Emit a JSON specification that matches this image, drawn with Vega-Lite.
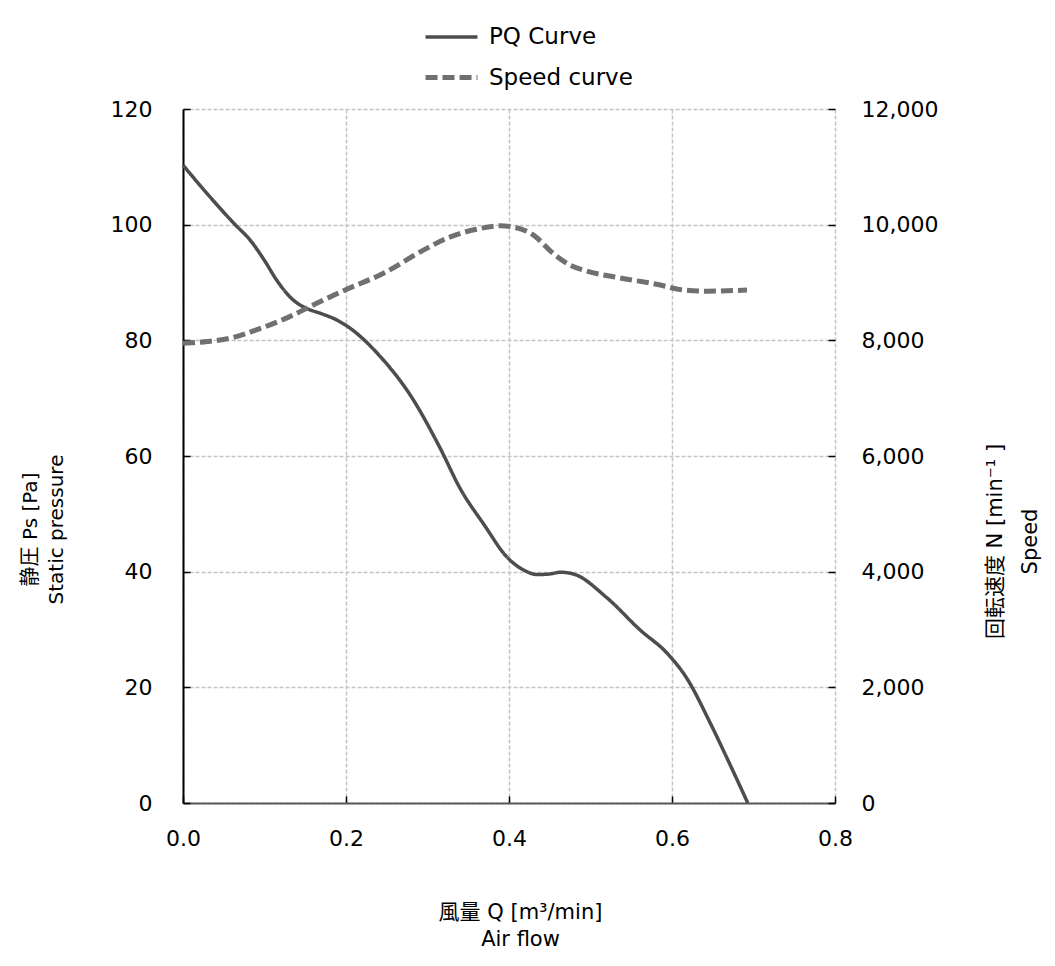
{
  "$schema": "https://vega.github.io/schema/vega-lite/v6.json",
  "width": 652,
  "height": 694,
  "autosize": {"type": "none"},
  "padding": {"left": 183, "top": 109, "right": 220, "bottom": 163},
  "background": "white",
  "config": {
    "view": {"stroke": null},
    "font": "DejaVu Sans, Noto Sans CJK JP",
    "axis": {
      "labelFontSize": 22,
      "labelColor": "#000000",
      "labelFont": "DejaVu Sans",
      "labelFlush": false,
      "labelOverlap": false,
      "titleFontSize": 20,
      "titleLineHeight": 26,
      "titleFontWeight": "normal",
      "titleColor": "#000000",
      "titleFont": "DejaVu Sans, Noto Sans CJK JP",
      "gridColor": "#c4c4c4",
      "gridDash": [4, 2],
      "gridWidth": 1.5,
      "tickColor": "#000000",
      "tickSize": -7,
      "tickWidth": 1.5
    },
    "legend": {
      "orient": "none",
      "legendX": 240,
      "legendY": -100,
      "symbolType": "stroke",
      "symbolSize": 2700,
      "labelFontSize": 23,
      "labelColor": "#000000",
      "labelFont": "DejaVu Sans",
      "rowPadding": -2,
      "labelOffset": 9
    }
  },
  "datasets": {
    "pq": [
      {"q": 0, "p": 110.3, "series": "PQ Curve"},
      {"q": 0.03, "p": 105.3, "series": "PQ Curve"},
      {"q": 0.064, "p": 100, "series": "PQ Curve"},
      {"q": 0.082, "p": 97.4, "series": "PQ Curve"},
      {"q": 0.1, "p": 93.8, "series": "PQ Curve"},
      {"q": 0.115, "p": 90.4, "series": "PQ Curve"},
      {"q": 0.135, "p": 87, "series": "PQ Curve"},
      {"q": 0.152, "p": 85.5, "series": "PQ Curve"},
      {"q": 0.17, "p": 84.6, "series": "PQ Curve"},
      {"q": 0.189, "p": 83.5, "series": "PQ Curve"},
      {"q": 0.205, "p": 82.1, "series": "PQ Curve"},
      {"q": 0.242, "p": 77.2, "series": "PQ Curve"},
      {"q": 0.279, "p": 70.5, "series": "PQ Curve"},
      {"q": 0.315, "p": 61.5, "series": "PQ Curve"},
      {"q": 0.34, "p": 54.4, "series": "PQ Curve"},
      {"q": 0.37, "p": 48, "series": "PQ Curve"},
      {"q": 0.397, "p": 42.6, "series": "PQ Curve"},
      {"q": 0.422, "p": 40, "series": "PQ Curve"},
      {"q": 0.434, "p": 39.5, "series": "PQ Curve"},
      {"q": 0.45, "p": 39.6, "series": "PQ Curve"},
      {"q": 0.463, "p": 39.9, "series": "PQ Curve"},
      {"q": 0.479, "p": 39.6, "series": "PQ Curve"},
      {"q": 0.52, "p": 35.5, "series": "PQ Curve"},
      {"q": 0.561, "p": 29.9, "series": "PQ Curve"},
      {"q": 0.594, "p": 25.9, "series": "PQ Curve"},
      {"q": 0.618, "p": 21.6, "series": "PQ Curve"},
      {"q": 0.647, "p": 13.8, "series": "PQ Curve"},
      {"q": 0.67, "p": 7, "series": "PQ Curve"},
      {"q": 0.693, "p": 0, "series": "PQ Curve"}
    ],
    "speed": [
      {"q": 0, "n": 7950, "series": "Speed curve"},
      {"q": 0.03, "n": 7980, "series": "Speed curve"},
      {"q": 0.062, "n": 8050, "series": "Speed curve"},
      {"q": 0.09, "n": 8180, "series": "Speed curve"},
      {"q": 0.131, "n": 8410, "series": "Speed curve"},
      {"q": 0.164, "n": 8640, "series": "Speed curve"},
      {"q": 0.199, "n": 8870, "series": "Speed curve"},
      {"q": 0.246, "n": 9160, "series": "Speed curve"},
      {"q": 0.295, "n": 9560, "series": "Speed curve"},
      {"q": 0.328, "n": 9790, "series": "Speed curve"},
      {"q": 0.36, "n": 9920, "series": "Speed curve"},
      {"q": 0.389, "n": 9980, "series": "Speed curve"},
      {"q": 0.405, "n": 9960, "series": "Speed curve"},
      {"q": 0.43, "n": 9820, "series": "Speed curve"},
      {"q": 0.454, "n": 9505, "series": "Speed curve"},
      {"q": 0.475, "n": 9300, "series": "Speed curve"},
      {"q": 0.495, "n": 9200, "series": "Speed curve"},
      {"q": 0.536, "n": 9080, "series": "Speed curve"},
      {"q": 0.581, "n": 8970, "series": "Speed curve"},
      {"q": 0.614, "n": 8870, "series": "Speed curve"},
      {"q": 0.643, "n": 8850, "series": "Speed curve"},
      {"q": 0.692, "n": 8870, "series": "Speed curve"}
    ]
  },
  "layer": [
    {
      "data": {"name": "pq"},
      "mark": {"type": "line", "interpolate": "monotone", "strokeCap": "butt"},
      "encoding": {
        "x": {
          "field": "q",
          "type": "quantitative",
          "scale": {"domain": [0, 0.8], "nice": false, "zero": false},
          "axis": {
            "values": [0, 0.2, 0.4, 0.6, 0.8],
            "format": ".1f",
            "labelPadding": 32,
            "domainColor": "#595959",
            "domainWidth": 2,
            "tickColor": "#000000",
            "titlePadding": 52,
            "titleFontSize": 21,
            "titleLineHeight": 27,
            "titleX": 337
          },
          "title": ["風量 Q [m³/min]", "Air flow"]
        },
        "y": {
          "field": "p",
          "type": "quantitative",
          "scale": {"domain": [0, 120], "nice": false},
          "axis": {
            "values": [0, 20, 40, 60, 80, 100, 120],
            "labelPadding": 38,
            "domainColor": "#000000",
            "domainWidth": 2,
            "titlePadding": 44,
            "titleY": 420
          },
          "title": ["静圧 Ps [Pa]", "Static pressure"]
        },
        "color": {
          "field": "series",
          "type": "nominal",
          "scale": {"domain": ["PQ Curve", "Speed curve"], "range": ["#4d4d4d", "#707070"]},
          "title": null
        },
        "strokeDash": {
          "field": "series",
          "type": "nominal",
          "scale": {"domain": ["PQ Curve", "Speed curve"], "range": [[1, 0], [12, 5]]},
          "title": null
        },
        "strokeWidth": {
          "field": "series",
          "type": "nominal",
          "scale": {"domain": ["PQ Curve", "Speed curve"], "range": [3.5, 5]},
          "title": null
        }
      }
    },
    {
      "data": {"name": "speed"},
      "mark": {"type": "line", "interpolate": "monotone", "strokeCap": "butt"},
      "encoding": {
        "x": {"field": "q", "type": "quantitative"},
        "y": {
          "field": "n",
          "type": "quantitative",
          "scale": {"domain": [0, 12000], "nice": false},
          "axis": {
            "orient": "right",
            "values": [0, 2000, 4000, 6000, 8000, 10000, 12000],
            "format": ",.0f",
            "labelPadding": 33,
            "domain": false,
            "grid": false,
            "titleAngle": 270,
            "titlePadding": 33,
            "titleLineHeight": 35,
            "titleFontSize": 21,
            "titleY": 432
          },
          "title": ["回転速度 N [min⁻¹ ]", "Speed"]
        },
        "color": {"field": "series", "type": "nominal", "title": null},
        "strokeDash": {"field": "series", "type": "nominal", "title": null},
        "strokeWidth": {"field": "series", "type": "nominal", "title": null}
      }
    }
  ],
  "resolve": {"scale": {"y": "independent"}}
}
